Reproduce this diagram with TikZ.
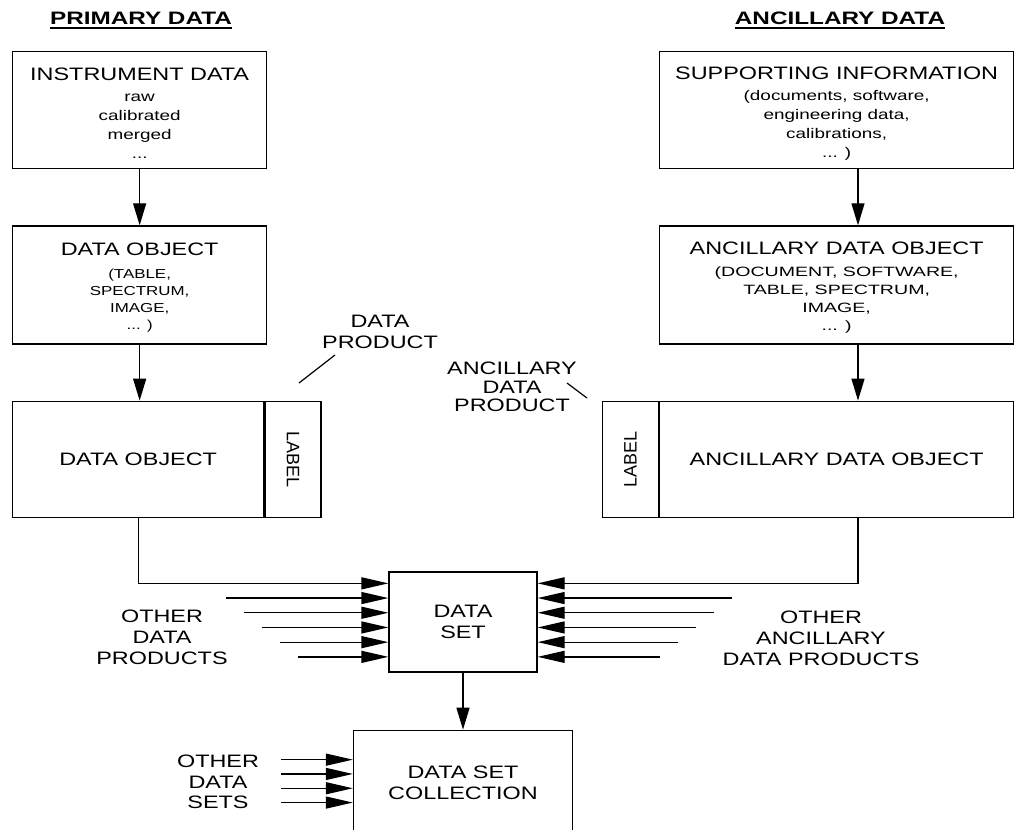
\documentclass[tikz,border=0pt]{standalone}
\usepackage{fontspec}
\usepackage{graphicx}
\usetikzlibrary{arrows.meta,positioning}
\newfontfamily\plotfont[FakeStretch=1.3]{Liberation Sans}
\newfontfamily\widefont[FakeStretch=1.45]{Liberation Sans}
\newfontfamily\lowfont[FakeStretch=1.35]{Liberation Sans}
\newfontfamily\headfont[FakeStretch=1.35]{Liberation Sans}
\newfontfamily\labelfont{Liberation Sans}
\newcommand\bigtxt{\plotfont\fontsize{18}{21}\selectfont}
\newcommand\smalltxt{\widefont\fontsize{13.5}{18}\selectfont}
\newcommand\lowtxt{\lowfont\fontsize{14}{19}\selectfont}
\newcommand\tinytxt{\plotfont\fontsize{13}{17}\selectfont}
\newcommand\headtxt{\headfont\bfseries\fontsize{18}{20}\selectfont}
\newcommand\labeltxt{\labelfont\fontsize{18}{21}\selectfont}
\tikzset{
  box_main/.style={draw,line width=1.3pt,inner sep=0pt,align=center,font=\bigtxt},
  box_label/.style={draw,line width=1.3pt,inner sep=0pt,
    minimum width=56pt,minimum height=116pt,font=\labeltxt},
  txt_note/.style={inner sep=0pt,align=center,font=\bigtxt},
  txt_head/.style={inner sep=0pt,font=\headtxt},
  arr/.style={-{Triangle[length=22pt,width=13pt]},line width=1.3pt},
  arr_h/.style={-{Triangle[length=27pt,width=12pt]},line width=1.3pt},
  lead_line/.style={line width=1.2pt},
}
\begin{document}
\begin{tikzpicture}[x=1pt,y=-1pt]
  \useasboundingbox (0,0) rectangle (1015,830);

  % primary data column
  \node[txt_head] (prim_head) at (141,18) {PRIMARY DATA};
  \node[box_main,minimum width=254pt,minimum height=117pt,anchor=north west,font=\lowtxt] (inst) at (12,51)
    {{\bigtxt\rule{0pt}{19pt}INSTRUMENT DATA}\\[2pt]raw\\calibrated\\merged\\...};
  \node[box_main,minimum width=254pt,minimum height=118pt,below=56pt of inst,font=\tinytxt] (dobj)
    {{\bigtxt\rule{0pt}{17pt}DATA OBJECT}\\[6pt](TABLE,\\SPECTRUM,\\IMAGE,\\... )};
  \node[box_main,minimum width=251pt,minimum height=116pt,below=56pt of dobj.south west,anchor=north west] (dp_main) {DATA OBJECT};
  \node[box_label,right=0pt of dp_main] (dp_label) {\rotatebox{-90}{LABEL}};

  % ancillary data column
  \node[txt_head] (anc_head) at (840,18) {ANCILLARY DATA};
  \node[box_main,minimum width=354pt,minimum height=117pt,anchor=north west,font=\lowtxt] (supp) at (659,51)
    {{\bigtxt\rule{0pt}{19pt}SUPPORTING INFORMATION}\\[2pt](documents, software,\\engineering data,\\calibrations,\\... )};
  \node[box_main,minimum width=354pt,minimum height=118pt,below=56pt of supp,font=\smalltxt] (anc_obj)
    {{\bigtxt\rule{0pt}{18pt}ANCILLARY DATA OBJECT}\\[4pt](DOCUMENT, SOFTWARE,\\TABLE, SPECTRUM,\\IMAGE,\\... )};
  \node[box_main,minimum width=354pt,minimum height=116pt,below=56pt of anc_obj] (ap_main) {ANCILLARY DATA OBJECT};
  \node[box_label,left=0pt of ap_main] (ap_label) {\rotatebox{90}{LABEL}};

  % product notes
  \node[txt_note] (dp_note) at (380,332) {DATA\\PRODUCT};
  \node[txt_note,font=\plotfont\fontsize{18}{18.5}\selectfont] (ap_note) at (512,387) {ANCILLARY\\DATA\\PRODUCT};
  \coordinate (dp_from) at (335,355);
  \coordinate (dp_tip) at (299,383);
  \coordinate (ap_from) at (567,383);
  \coordinate (ap_tip) at (587,398);
  \draw[lead_line] (dp_from) -- (dp_tip);
  \draw[lead_line] (ap_from) -- (ap_tip);

  % data set and collection
  \node[box_main,minimum width=148pt,minimum height=100pt] (dset) at (463,622) {DATA\\SET};
  \node[box_main,minimum width=219pt,minimum height=104pt,below=57pt of dset] (dsc) {DATA SET\\COLLECTION};
  \node[txt_note] (other_dp) at (162,637) {OTHER\\DATA\\PRODUCTS};
  \node[txt_note] (other_ap) at (821,638) {OTHER\\ANCILLARY\\DATA PRODUCTS};
  \node[txt_note,font=\plotfont\fontsize{18}{20.5}\selectfont] (other_ds) at (218,782) {OTHER\\DATA\\SETS};

  % underlines of the headings
  \draw[line width=1.5pt] ([yshift=-4pt]prim_head.base west) -- ([yshift=-4pt]prim_head.base east);
  \draw[line width=1.5pt] ([yshift=-4pt]anc_head.base west) -- ([yshift=-4pt]anc_head.base east);

  % connectors
  \coordinate (anc_x) at (858,0);
  \draw[arr] (inst) -- (dobj);
  \draw[arr] (dobj.south) -- (dobj.south |- dp_main.north);
  \draw[arr] (supp.south -| anc_x) -- (anc_obj.north -| anc_x);
  \draw[arr] (anc_obj.south -| anc_x) -- (ap_main.north -| anc_x);
  \draw[arr] (dset) -- (dsc);
  \draw[arr_h] (dp_main.south) |- ([yshift=-12pt]dset.north west);
  \draw[arr_h] (ap_main.south -| anc_x) |- ([yshift=-12pt]dset.north east);
  \foreach \i in {1,...,5}{
    \draw[arr_h] ([xshift={(18*\i-180)*1pt},yshift={-(12+14.7*\i)*1pt}]dset.north west)
      -- ([yshift={-(12+14.7*\i)*1pt}]dset.north west);
    \draw[arr_h] ([xshift={(212-18*\i)*1pt},yshift={-(12+14.7*\i)*1pt}]dset.north east)
      -- ([yshift={-(12+14.7*\i)*1pt}]dset.north east);
  }
  \foreach \i in {0,...,3}
    \draw[arr_h] ([xshift=-72pt,yshift={-(30+14.3*\i)*1pt}]dsc.north west)
      -- ([yshift={-(30+14.3*\i)*1pt}]dsc.north west);
\end{tikzpicture}
\end{document}
